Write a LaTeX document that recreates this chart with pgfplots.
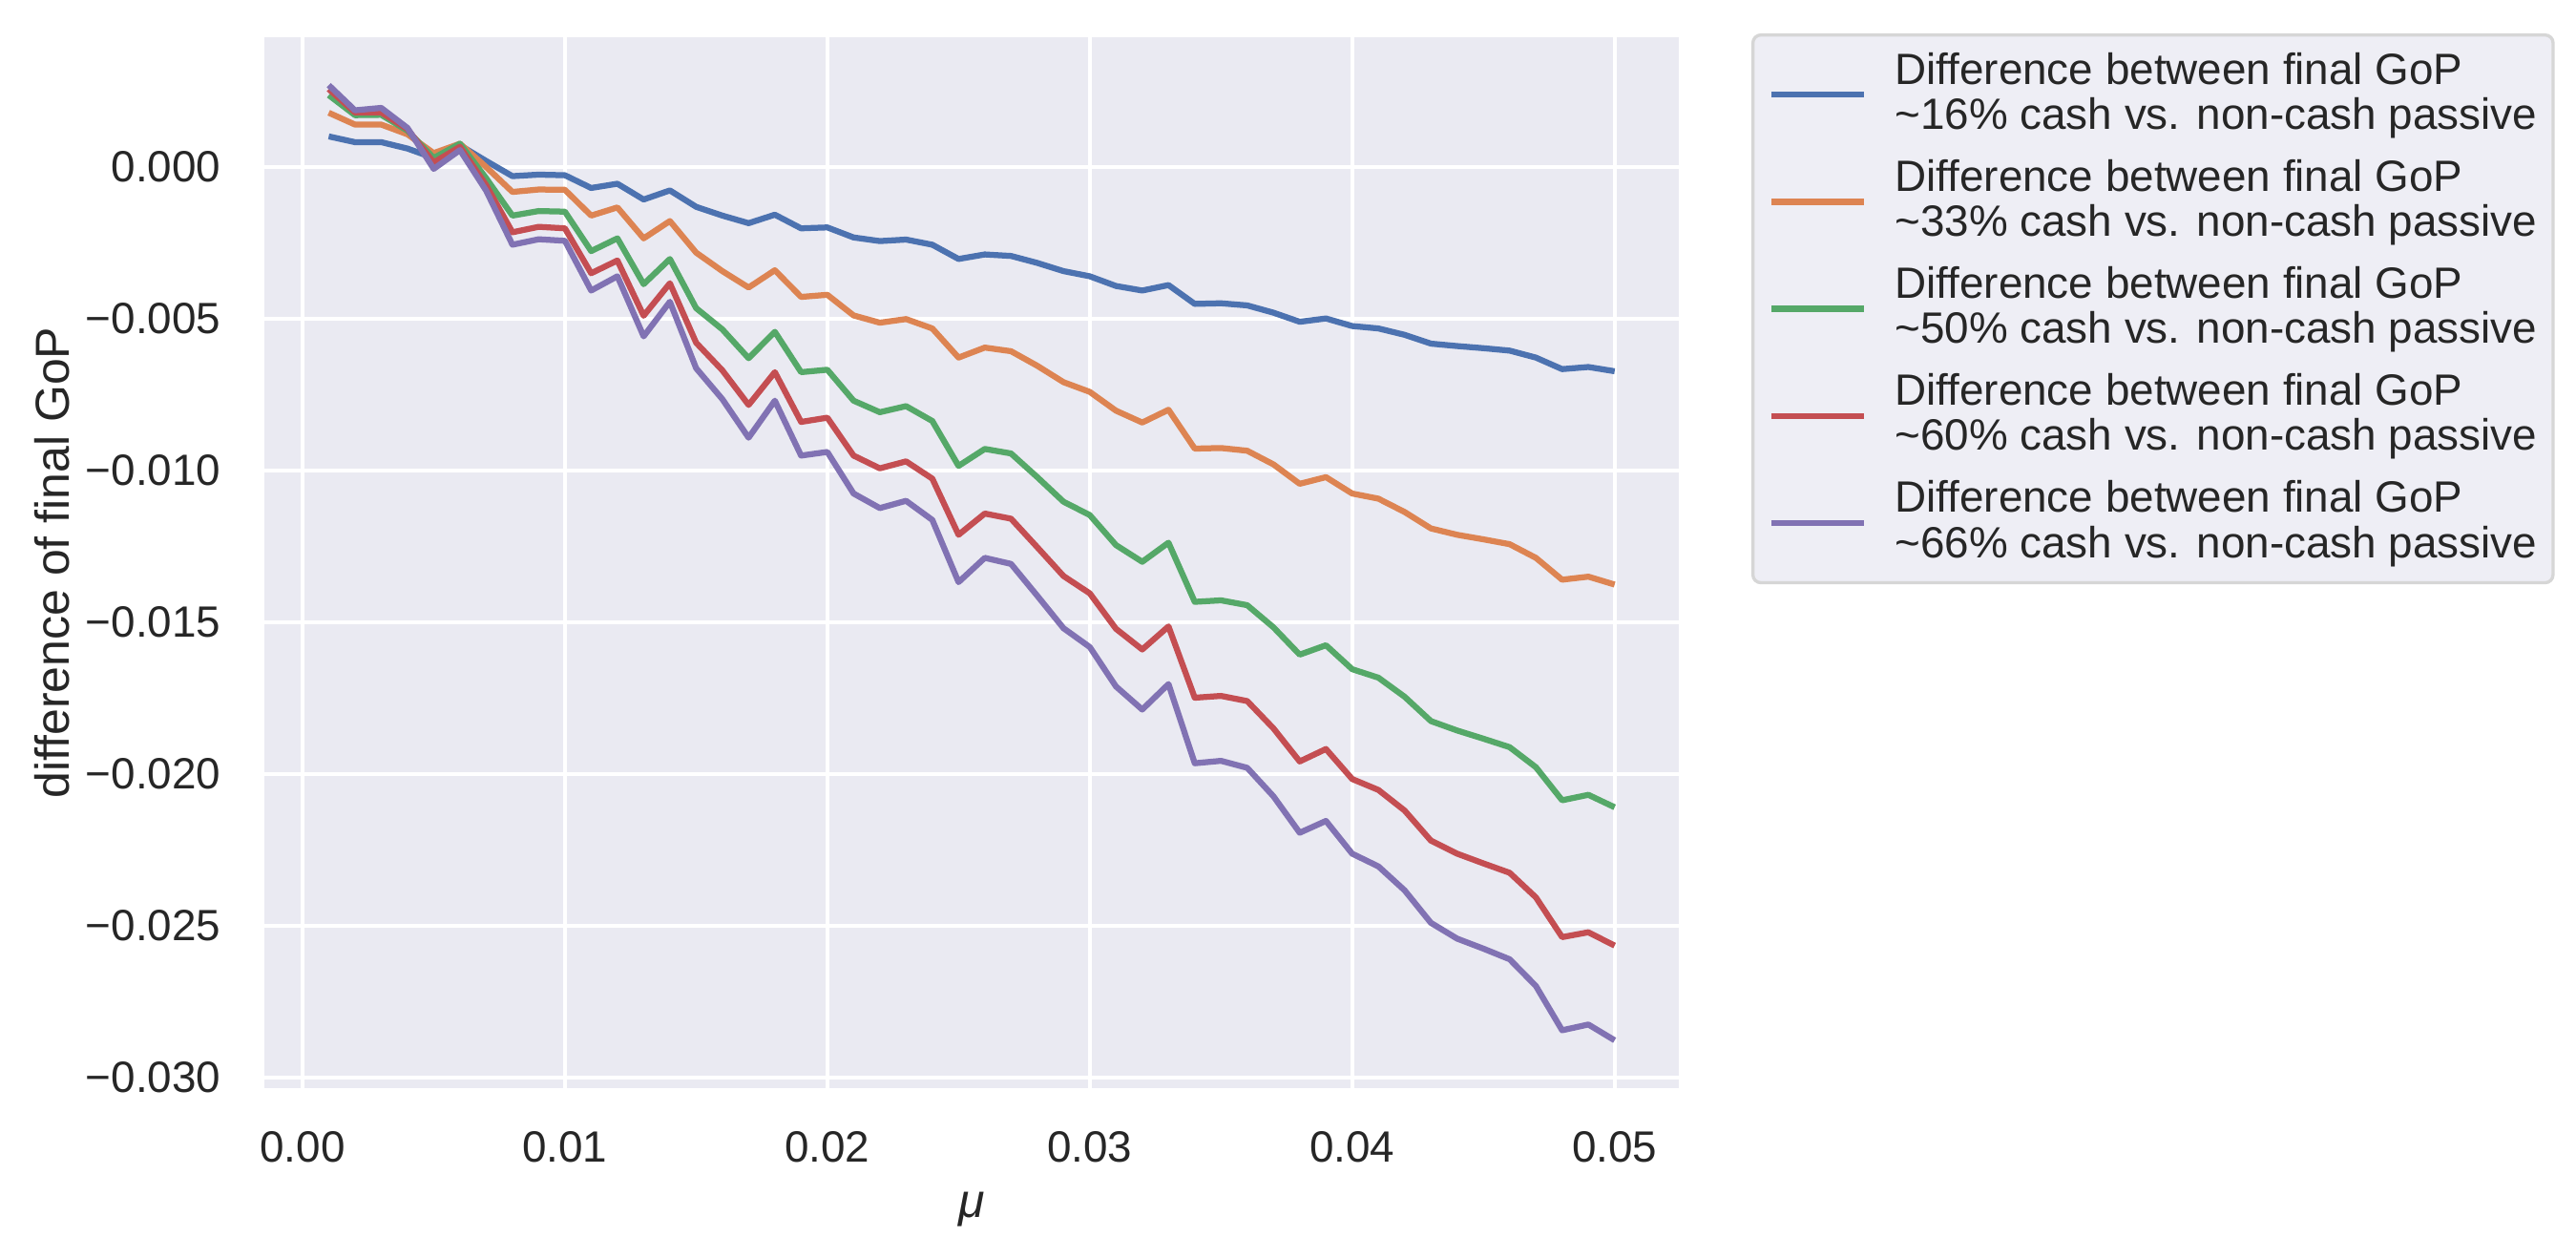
\documentclass[border=0pt]{standalone}
\usepackage{fontspec}
\setmainfont{Liberation Sans}
\usepackage{pgfplots}
\usepackage{pgfplotstable}
\pgfplotsset{compat=1.18}
\definecolor{bgc}{HTML}{EAEAF2}
\definecolor{txt}{HTML}{262626}
\definecolor{c1}{HTML}{4C72B0}
\definecolor{c2}{HTML}{DD8452}
\definecolor{c3}{HTML}{55A868}
\definecolor{c4}{HTML}{C44E52}
\definecolor{c5}{HTML}{8172B3}
\definecolor{legfill}{HTML}{EEEEF5}
\definecolor{legdraw}{HTML}{D6D6D6}
\pgfplotstableread{
mu a b c d e
0.001 0.00101 0.00179 0.00237 0.00257 0.00270
0.002 0.00082 0.00140 0.00171 0.00180 0.00187
0.003 0.00082 0.00140 0.00172 0.00180 0.00195
0.004 0.00061 0.00108 0.00120 0.00125 0.00129
0.005 0.00030 0.00046 0.00030 0.00015 -0.00006
0.006 0.00072 0.00077 0.00077 0.00067 0.00056
0.007 0.00020 0.00000 -0.00037 -0.00060 -0.00078
0.008 -0.00030 -0.00082 -0.00160 -0.00215 -0.00256
0.009 -0.00025 -0.00074 -0.00145 -0.00197 -0.00238
0.010 -0.00027 -0.00075 -0.00147 -0.00202 -0.00243
0.011 -0.00069 -0.00160 -0.00277 -0.00350 -0.00407
0.012 -0.00055 -0.00133 -0.00235 -0.00308 -0.00360
0.013 -0.00107 -0.00235 -0.00386 -0.00490 -0.00558
0.014 -0.00077 -0.00178 -0.00303 -0.00383 -0.00444
0.015 -0.00131 -0.00282 -0.00465 -0.00579 -0.00663
0.016 -0.00160 -0.00343 -0.00535 -0.00670 -0.00765
0.017 -0.00185 -0.00397 -0.00630 -0.00784 -0.00892
0.018 -0.00157 -0.00340 -0.00543 -0.00676 -0.00770
0.019 -0.00202 -0.00428 -0.00676 -0.00840 -0.00951
0.020 -0.00199 -0.00421 -0.00668 -0.00826 -0.00939
0.021 -0.00232 -0.00489 -0.00770 -0.00951 -0.01076
0.022 -0.00244 -0.00513 -0.00808 -0.00993 -0.01124
0.023 -0.00239 -0.00501 -0.00788 -0.00970 -0.01100
0.024 -0.00256 -0.00532 -0.00837 -0.01027 -0.01163
0.025 -0.00303 -0.00628 -0.00985 -0.01212 -0.01368
0.026 -0.00288 -0.00595 -0.00929 -0.01142 -0.01288
0.027 -0.00293 -0.00607 -0.00944 -0.01159 -0.01308
0.028 -0.00316 -0.00655 -0.01022 -0.01253 -0.01413
0.029 -0.00343 -0.00709 -0.01103 -0.01348 -0.01520
0.030 -0.00360 -0.00741 -0.01147 -0.01405 -0.01582
0.031 -0.00392 -0.00803 -0.01246 -0.01522 -0.01712
0.032 -0.00407 -0.00842 -0.01301 -0.01590 -0.01788
0.033 -0.00389 -0.00800 -0.01238 -0.01514 -0.01704
0.034 -0.00451 -0.00928 -0.01433 -0.01749 -0.01965
0.035 -0.00449 -0.00926 -0.01428 -0.01743 -0.01957
0.036 -0.00456 -0.00935 -0.01444 -0.01760 -0.01980
0.037 -0.00480 -0.00980 -0.01517 -0.01850 -0.02074
0.038 -0.00510 -0.01044 -0.01607 -0.01959 -0.02194
0.039 -0.00499 -0.01022 -0.01576 -0.01918 -0.02155
0.040 -0.00524 -0.01076 -0.01655 -0.02017 -0.02263
0.041 -0.00532 -0.01093 -0.01683 -0.02053 -0.02305
0.042 -0.00553 -0.01137 -0.01746 -0.02121 -0.02384
0.043 -0.00582 -0.01191 -0.01826 -0.02220 -0.02491
0.044 -0.00590 -0.01212 -0.01857 -0.02263 -0.02543
0.045 -0.00597 -0.01227 -0.01884 -0.02295 -0.02576
0.046 -0.00605 -0.01243 -0.01912 -0.02326 -0.02611
0.047 -0.00628 -0.01288 -0.01978 -0.02407 -0.02699
0.048 -0.00666 -0.01360 -0.02087 -0.02538 -0.02845
0.049 -0.00659 -0.01350 -0.02069 -0.02522 -0.02826
0.050 -0.00673 -0.01376 -0.02110 -0.02566 -0.02878
}\data
\newcommand{\legtext}[1]{\begin{tabular}{@{}l@{}}Difference between final GoP\\\textasciitilde#1\% cash vs. non-cash passive\end{tabular}}
\begin{document}
\begin{tikzpicture}
\useasboundingbox (0,0) rectangle (647.8pt,316.3pt);
\begin{axis}[
  at={(66.5pt,42.7pt)}, anchor=south west,
  scale only axis, width=355.7pt, height=264.2pt,
  xmin=-0.00145, xmax=0.05245,
  ymin=-0.030354, ymax=0.004274,
  axis background/.style={fill=bgc},
  axis line style={draw=none},
  major tick length=0pt,
  tick style={draw=none},
  grid=major,
  grid style={white, line width=1pt},
  xtick={0,0.01,0.02,0.03,0.04,0.05},
  xticklabels={0.00,0.01,0.02,0.03,0.04,0.05},
  ytick={-0.030,-0.025,-0.020,-0.015,-0.010,-0.005,0},
  yticklabels={−0.030,−0.025,−0.020,−0.015,−0.010,−0.005,0.000},
  scaled ticks=false,
  xticklabel style={font=\fontsize{11}{13}\selectfont, text=txt, inner sep=0pt, anchor=north, yshift=-10.8pt},
  yticklabel style={font=\fontsize{11}{13}\selectfont, text=txt, inner sep=0pt, anchor=east, xshift=-10.8pt},
  xlabel={\itshape μ},
  ylabel={difference of final GoP},
  xlabel style={font=\fontsize{12}{14}\selectfont, text=txt, at={(axis description cs:0.5,-0.1154)}, anchor=center},
  ylabel style={font=\fontsize{12}{14}\selectfont, text=txt, at={(axis description cs:-0.1498,0.5)}, anchor=center, rotate=0},
  clip=true,
  legend cell align=left,
  legend image code/.code={\draw[#1, line width=1.5pt] (0pt,0pt) -- (23.2pt,0pt);},
  legend style={
    at={(axis description cs:1.0512,1.0038)}, anchor=north west,
    fill=legfill, draw=legdraw, line width=0.8pt, rounded corners=2pt,
    inner xsep=4pt, inner ysep=4.4pt,
    row sep=5.65pt, column sep=7pt,
    font=\fontsize{11}{11.2}\selectfont, text=txt,
    nodes={inner sep=0pt, text depth=7.2pt},
  },
]
\addplot[c1, line width=1.5pt, line join=round] table[x=mu,y=a]{\data};
\addlegendentry{\legtext{16}}
\addplot[c2, line width=1.5pt, line join=round] table[x=mu,y=b]{\data};
\addlegendentry{\legtext{33}}
\addplot[c3, line width=1.5pt, line join=round] table[x=mu,y=c]{\data};
\addlegendentry{\legtext{50}}
\addplot[c4, line width=1.5pt, line join=round] table[x=mu,y=d]{\data};
\addlegendentry{\legtext{60}}
\addplot[c5, line width=1.5pt, line join=round] table[x=mu,y=e]{\data};
\addlegendentry{\legtext{66}}
\end{axis}
\end{tikzpicture}
\end{document}
